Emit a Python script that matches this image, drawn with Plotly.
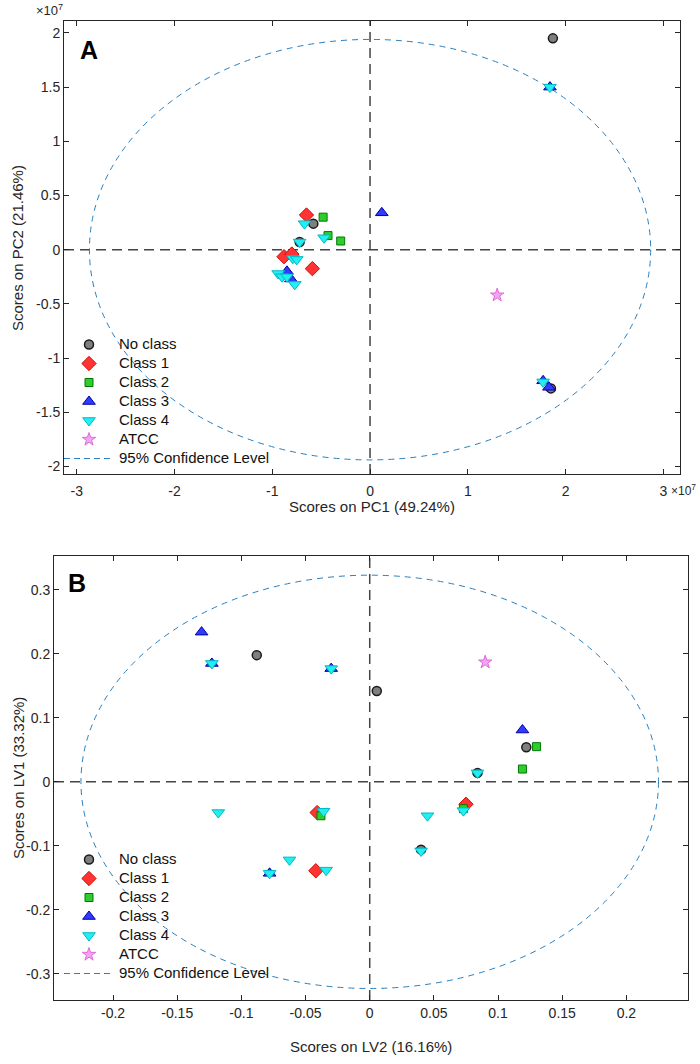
import plotly.graph_objects as go

# ---------------- Panel A data (units of 1e7) ----------------
A_noclass_x = [1.87, -0.58, -0.72, 1.85]
A_noclass_y = [1.95, 0.24, 0.07, -1.28]
A_c1_x = [-0.65, -0.88, -0.80, -0.59]
A_c1_y = [0.32, -0.065, -0.04, -0.175]
A_c2_x = [-0.48, -0.43, -0.30]
A_c2_y = [0.30, 0.13, 0.08]
A_c3_x = [0.12, -0.85, -0.81, 1.84, 1.77, 1.83]
A_c3_y = [0.34, -0.20, -0.27, 1.50, -1.21, -1.27]
A_c4_x = [-0.67, -0.72, -0.47, -0.79, -0.75, -0.94, -0.90, -0.85, -0.77, 1.84, 1.77]
A_c4_y = [0.24, 0.07, 0.11, -0.08, -0.09, -0.22, -0.25, -0.25, -0.32, 1.50, -1.22]
A_atcc_x = [1.30]
A_atcc_y = [-0.42]
A_ellipse = [2.87, 1.94]  # semi-axes (x, y)

# ---------------- Panel B data ----------------
B_noclass_x = [-0.088, 0.0055, 0.122, 0.084, 0.040]
B_noclass_y = [0.198, 0.142, 0.054, 0.014, -0.106]
B_c1_x = [0.075, -0.041, -0.042]
B_c1_y = [-0.035, -0.048, -0.139]
B_c2_x = [0.130, 0.119, 0.073, -0.038]
B_c2_y = [0.055, 0.020, -0.042, -0.053]
B_c3_x = [-0.131, -0.123, -0.030, 0.119, -0.078]
B_c3_y = [0.234, 0.185, 0.177, 0.081, -0.143]
B_c4_x = [-0.123, -0.030, 0.084, 0.073, 0.045, 0.040, -0.036, -0.118, -0.0625, -0.034, -0.078]
B_c4_y = [0.185, 0.177, 0.014, -0.045, -0.053, -0.108, -0.046, -0.048, -0.122, -0.138, -0.143]
B_atcc_x = [0.090]
B_atcc_y = [0.187]
B_ellipse = [0.225, 0.323]

A_xticks = [-3, -2, -1, 0, 1, 2, 3]
A_yticks = [-2, -1.5, -1, -0.5, 0, 0.5, 1, 1.5, 2]
B_xticks = [-0.2, -0.15, -0.1, -0.05, 0, 0.05, 0.1, 0.15, 0.2]
B_yticks = [-0.3, -0.2, -0.1, 0, 0.1, 0.2, 0.3]

names = ["No class", "Class 1", "Class 2", "Class 3", "Class 4", "ATCC"]
styles = [
    dict(symbol="circle", size=9, color="#7f7f7f", line=dict(color="#1a1a1a", width=1.5)),
    dict(symbol="diamond", size=11, color="#ff3333", line=dict(color="#cc1100", width=1)),
    dict(symbol="square", size=8, color="#2ecc2e", line=dict(color="#007a00", width=1)),
    dict(symbol="triangle-up", size=11, color="#2f3cff", line=dict(color="#0000a0", width=1)),
    dict(symbol="triangle-down", size=11, color="#22f0f0", line=dict(color="#00b8c8", width=1)),
    dict(symbol="star", size=10, color="#f2a6ee", line=dict(color="#e068dc", width=1)),
]
ELL_COLOR = "#2a80c0"
FONT = "Liberation Sans, Arial, sans-serif"
TXT = "#262626"
W, H = 700, 1064

fig = go.Figure()

panels = [
    ("x", "y", "legend", [(A_noclass_x, A_noclass_y), (A_c1_x, A_c1_y), (A_c2_x, A_c2_y),
                          (A_c3_x, A_c3_y), (A_c4_x, A_c4_y), (A_atcc_x, A_atcc_y)], A_ellipse),
    ("x2", "y2", "legend2", [(B_noclass_x, B_noclass_y), (B_c1_x, B_c1_y), (B_c2_x, B_c2_y),
                             (B_c3_x, B_c3_y), (B_c4_x, B_c4_y), (B_atcc_x, B_atcc_y)], B_ellipse),
]

for xa, ya, lg, series, ell in panels:
    for name, st, (xs, ys) in zip(names, styles, series):
        fig.add_trace(go.Scatter(
            x=xs, y=ys, mode="markers", name=f'<span style="font-size:15px">{name}</span>',
            marker=st, xaxis=xa, yaxis=ya, legend=lg, cliponaxis=False))
    fig.add_trace(go.Scatter(
        x=[None], y=[None], mode="lines",
        name='<span style="font-size:15px">95% Confidence Level</span>',
        line=dict(color=ELL_COLOR, width=1, dash="6px,4px"),
        xaxis=xa, yaxis=ya, legend=lg))
    # confidence ellipse
    fig.add_shape(type="circle", xref=xa, yref=ya, x0=-ell[0], x1=ell[0], y0=-ell[1], y1=ell[1],
                  line=dict(color=ELL_COLOR, width=1, dash="6px,5px"), layer="below")
    # zero lines
    fig.add_shape(type="line", xref=f"{xa} domain", yref=ya, x0=0, x1=1, y0=0, y1=0,
                  line=dict(color="#444444", width=1.5, dash="10px,6px"), layer="below")
    fig.add_shape(type="line", xref=xa, yref=f"{ya} domain", x0=0, x1=0, y0=0, y1=1,
                  line=dict(color="#444444", width=1.5, dash="10px,6px"), layer="below")


def fmt(v):
    return f"{v:g}"


axis_common = dict(showline=True, linecolor=TXT, linewidth=1, mirror="ticks", ticks="inside",
                   ticklen=5, tickcolor=TXT, showgrid=False, zeroline=False,
                   tickfont=dict(family=FONT, size=14, color=TXT), automargin=False)


def px2x(p):
    return p / W


def px2y(p):
    return 1 - p / H


leg_common = dict(xanchor="left", yanchor="top", bgcolor="rgba(0,0,0,0)", borderwidth=0,
                  itemwidth=50, font=dict(family=FONT, size=12.3, color="#111111"),
                  tracegroupgap=0, itemsizing="trace")

fig.update_layout(
    width=W, height=H, margin=dict(l=0, r=0, t=0, b=0),
    paper_bgcolor="white", plot_bgcolor="white", showlegend=True,
    font=dict(family=FONT, color=TXT),
    xaxis=dict(domain=[px2x(64), px2x(680)], range=[-3.13, 3.17], tickvals=A_xticks,
               ticktext=[fmt(v) for v in A_xticks], anchor="y", ticklabelstandoff=4,
               **axis_common),
    yaxis=dict(domain=[px2y(474), px2y(21)], range=[-2.07, 2.11], tickvals=A_yticks,
               ticktext=[fmt(v) for v in A_yticks], anchor="x", **axis_common),
    xaxis2=dict(domain=[px2x(54), px2x(688)], range=[-0.246, 0.248], tickvals=B_xticks,
                ticktext=[fmt(v) for v in B_xticks], anchor="y2", **axis_common),
    yaxis2=dict(domain=[px2y(1000), px2y(556)], range=[-0.341, 0.353], tickvals=B_yticks,
                ticktext=[fmt(v) for v in B_yticks], anchor="x2", **axis_common),
    legend=dict(x=px2x(59), y=px2y(330), **leg_common),
    legend2=dict(x=px2x(59), y=px2y(845), **leg_common),
)


def ann(text, x, y, size, xanchor="center", yanchor="middle", color=TXT, angle=0):
    return dict(text=text, x=px2x(x), y=px2y(y), xref="paper", yref="paper", xanchor=xanchor,
                yanchor=yanchor, showarrow=False, textangle=angle,
                font=dict(family=FONT, size=size, color=color))


annotations = [
    ann("<b>A</b>", 78, 50, 25, xanchor="left", color="black"),
    ann("<b>B</b>", 66, 583, 25, xanchor="left", color="black"),
    ann("×10<sup>7</sup>", 34, 10, 13, xanchor="left"),
    ann("×10<sup>7</sup>", 698, 490, 12, xanchor="right"),
    ann("Scores on PC1 (49.24%)", 372, 506, 15),
    ann("Scores on PC2 (21.46%)", 18, 248, 15, angle=-90),
    ann("Scores on LV2 (16.16%)", 371, 1046, 15),
    ann("Scores on LV1 (33.32%)", 18, 778, 15, angle=-90),
]
fig.update_layout(annotations=annotations)

fig.write_html("out.html", config={"displayModeBar": False},
               post_script="document.body.style.margin='0px';")
